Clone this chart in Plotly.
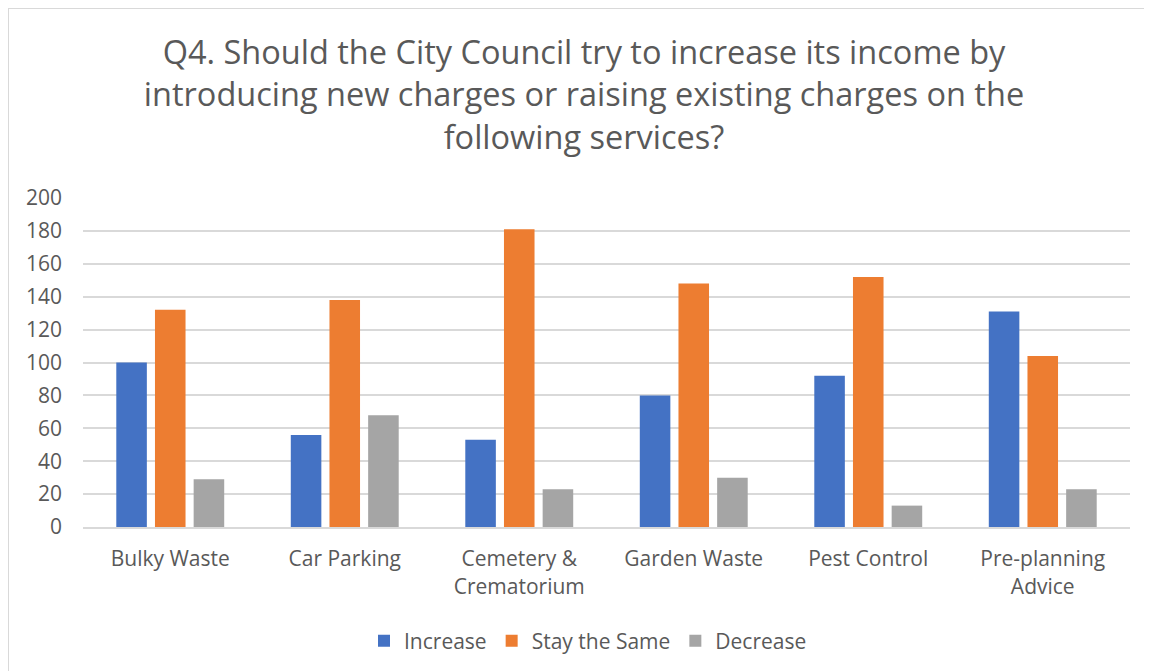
import plotly.graph_objects as go

categories = ["Bulky Waste", "Car Parking", "Cemetery &<br>Crematorium",
              "Garden Waste", "Pest Control", "Pre-planning<br>Advice"]
increase = [100, 56, 53, 80, 92, 131]
stay_same = [132, 138, 181, 148, 152, 104]
decrease = [29, 68, 23, 30, 13, 23]
series_names = ["Increase", "Stay the Same", "Decrease"]
colors = ["#4472C4", "#ED7D31", "#A5A5A5"]
y_ticks = [0, 20, 40, 60, 80, 100, 120, 140, 160, 180, 200]

# page has an 8px body margin; figure is sized to fill the rest of the window
W, H = 1144, 663
L, R, T, B = 75, 22, 190, 144
FONT = "Open Sans"
GREY = "#595959"

fig = go.Figure()
for name, vals, col in zip(series_names, [increase, stay_same, decrease], colors):
    fig.add_trace(go.Bar(x=categories, y=vals, name=name, marker_color=col,
                         marker_line_width=0))

pw = W - L - R
ph = H - T - B
def px_x(x):
    return (x - L) / pw
def px_y(y):
    return (H - B - y) / ph

fig.update_layout(
    width=W, height=H,
    margin=dict(l=L, r=R, t=T, b=B, autoexpand=False),
    paper_bgcolor="white", plot_bgcolor="white",
    barmode="group", bargap=0.335, bargroupgap=0.21,
    font=dict(family=FONT, color=GREY),
    title=dict(
        text="Q4. Should the City Council try to increase its income by<br>"
             "introducing new charges or raising existing charges on the<br>"
             "following services?",
        x=px_x(584 - 8), xanchor="center", xref="paper",
        y=1 - 56 / H, yanchor="top", yref="container",
        font=dict(family=FONT, size=32.5, color=GREY),
    ),
    xaxis=dict(showgrid=False, showline=True, linecolor="#D9D9D9", linewidth=2,
               tickfont=dict(family=FONT, size=21, color=GREY), ticks="",
               ticklabelstandoff=12, tickangle=0),
    yaxis=dict(range=[0, 200], tickvals=y_ticks, showgrid=True,
               gridcolor="#D9D9D9", gridwidth=2, zeroline=False, showline=False,
               tickfont=dict(family=FONT, size=21, color=GREY), ticks="",
               ticklabelstandoff=20),
    legend=dict(orientation="h", x=px_x(588 - 8), xanchor="center", xref="paper",
                y=px_y(633), yanchor="middle",
                font=dict(family=FONT, size=21, color=GREY),
                traceorder="normal", itemwidth=30),
    shapes=[
        dict(type="line", xref="paper", yref="paper",
             x0=px_x(0), x1=px_x(W + 10), y0=px_y(0), y1=px_y(0),
             line=dict(color="#D9D9D9", width=2)),
        dict(type="line", xref="paper", yref="paper",
             x0=px_x(0), x1=px_x(0), y0=px_y(0), y1=px_y(H + 10),
             line=dict(color="#D9D9D9", width=2)),
    ],
)

fig.write_html("out.html")
